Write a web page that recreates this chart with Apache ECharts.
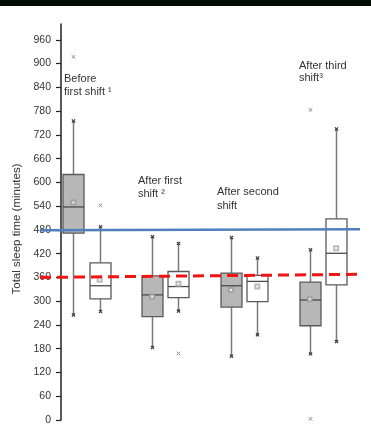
<!DOCTYPE html>
<html>
<head>
<meta charset="utf-8">
<script src="https://cdn.jsdelivr.net/npm/echarts@6/dist/echarts.min.js"></script>
<style>
  html, body { margin: 0; padding: 0; background: #ffffff; }
  #chart { width: 371px; height: 427px; }
  #strip { position: absolute; left: 0; top: 0; width: 371px; height: 6px; background: #020c02; z-index: 5; }
</style>
</head>
<body>
<div id="strip"></div>
<div id="chart"></div>
<script>
// ---- data (minutes) ----
const groupLabels = ['Before\nfirst shift \u00b9', 'After first\nshift \u00b2', 'After second\nshift', 'After third\nshift\u00b3'];
const groupPos = [1, 2, 3, 4];
// [min, Q1, median, Q3, max]
const grayStats = [
  [265, 472, 538, 620, 755],
  [183, 261, 316, 364, 463],
  [161, 285, 339, 371, 461],
  [167, 238, 303, 348, 430]
];
const whiteStats = [
  [274, 306, 339, 397, 488],
  [275, 309, 337, 375, 446],
  [215, 299, 350, 365, 409],
  [198, 341, 421, 508, 735]
];
const grayMeans = [549, 312, 328, 305];
const whiteMeans = [354, 344, 337, 434];
// [group index, value]
const grayOutliers = [[0, 917], [3, 783], [3, 3]];
const whiteOutliers = [[0, 542], [1, 168]];
const blueRef = [479, 482];
const redRef = [360, 368];
const yTicks = [0, 60, 120, 180, 240, 300, 360, 420, 480, 540, 600, 660, 720, 780, 840, 900, 960];

// ---- build ----
const pairOffset = 1 / 6;
const xMin = 0.41, xMax = 4.47;
const grayData = grayStats.map((s, i) => [groupPos[i] - pairOffset].concat(s));
const whiteData = whiteStats.map((s, i) => [groupPos[i] + pairOffset].concat(s));
const grayMeanData = grayMeans.map((v, i) => [groupPos[i] - pairOffset, v]);
const whiteMeanData = whiteMeans.map((v, i) => [groupPos[i] + pairOffset, v]);
const outlierData = grayOutliers.map(o => [groupPos[o[0]] - pairOffset, o[1]])
  .concat(whiteOutliers.map(o => [groupPos[o[0]] + pairOffset, o[1]]));

function cross(p, h, color, lw) {
  return [
    { type: 'line', shape: { x1: p[0] - h, y1: p[1] - h, x2: p[0] + h, y2: p[1] + h }, style: { stroke: color, lineWidth: lw } },
    { type: 'line', shape: { x1: p[0] - h, y1: p[1] + h, x2: p[0] + h, y2: p[1] - h }, style: { stroke: color, lineWidth: lw } }
  ];
}

function boxRenderer(fill) {
  return function (params, api) {
    const x = api.value(0);
    const pMin = api.coord([x, api.value(1)]);
    const pQ1 = api.coord([x, api.value(2)]);
    const pMed = api.coord([x, api.value(3)]);
    const pQ3 = api.coord([x, api.value(4)]);
    const pMax = api.coord([x, api.value(5)]);
    const hw = 10.5;
    const cx = Math.round(pMed[0]) + 0.5;
    const children = [
      { type: 'line', shape: { x1: cx, y1: pMax[1], x2: cx, y2: pQ3[1] }, style: { stroke: '#7a7a7a', lineWidth: 1.5 } },
      { type: 'line', shape: { x1: cx, y1: pQ1[1], x2: cx, y2: pMin[1] }, style: { stroke: '#7a7a7a', lineWidth: 1.5 } },
      { type: 'rect', shape: { x: cx - hw, y: pQ3[1], width: hw * 2, height: pQ1[1] - pQ3[1] }, style: { fill: fill, stroke: '#5a5a5a', lineWidth: 1.3 } },
      { type: 'line', shape: { x1: cx - hw, y1: pMed[1], x2: cx + hw, y2: pMed[1] }, style: { stroke: '#4a4a4a', lineWidth: 1.3 } }
    ];
    return { type: 'group', children: children.concat(cross([cx, pMax[1]], 1.6, '#333', 1.1), cross([cx, pMin[1]], 1.6, '#333', 1.1)) };
  };
}

const chart = echarts.init(document.getElementById('chart'), null, { renderer: 'canvas' });
const textStyle = { fill: '#333', font: '11px "Liberation Sans", Arial, sans-serif', lineHeight: 13.5 };
chart.setOption({
  backgroundColor: '#ffffff',
  animation: false,
  grid: { left: 40, right: 11, top: 24, bottom: 7, containLabel: false },
  xAxis: { type: 'value', min: xMin, max: xMax, show: false },
  yAxis: {
    type: 'value', min: 0, max: 1000, offset: -21,
    name: 'Total sleep time (minutes)', nameLocation: 'middle', nameGap: 33, nameRotate: 90,
    nameTextStyle: { fontFamily: 'Liberation Sans', fontSize: 11.5, color: '#333', padding: [0, 14, 0, 0] },
    splitLine: { show: false },
    axisLine: { show: true, onZero: false, lineStyle: { color: '#222', width: 1.5 } },
    axisTick: { show: true, inside: false, length: 5, customValues: yTicks, lineStyle: { color: '#222', width: 1.2 } },
    axisLabel: { customValues: yTicks, fontFamily: 'Liberation Sans', fontSize: 10.5, color: '#333', margin: 10 }
  },
  graphic: [
    { type: 'text', left: 64, top: 72, style: Object.assign({ text: groupLabels[0] }, textStyle) },
    { type: 'text', left: 138, top: 174, style: Object.assign({ text: groupLabels[1] }, textStyle) },
    { type: 'text', left: 217, top: 185.5, style: Object.assign({ text: groupLabels[2] }, textStyle) },
    { type: 'text', left: 299, top: 60.5, style: Object.assign({ text: groupLabels[3] }, textStyle, { lineHeight: 11.5 }) }
  ],
  series: [
    { type: 'custom', name: 'gray', data: grayData, encode: { x: 0, y: [1, 2, 3, 4, 5] }, renderItem: boxRenderer('#b7b7b7'), z: 2 },
    { type: 'custom', name: 'white', data: whiteData, encode: { x: 0, y: [1, 2, 3, 4, 5] }, renderItem: boxRenderer('#ffffff'), z: 2 },
    { type: 'scatter', name: 'mean gray', data: grayMeanData, symbol: 'emptyRect', symbolSize: 4, itemStyle: { color: '#9a9a9a', borderWidth: 0.8 }, z: 3 },
    { type: 'scatter', name: 'mean white', data: whiteMeanData, symbol: 'emptyRect', symbolSize: 4, itemStyle: { color: '#aaaaaa', borderWidth: 0.8 }, z: 3 },
    { type: 'custom', name: 'outliers', data: outlierData, encode: { x: 0, y: 1 },
      renderItem: function (params, api) {
        const p = api.coord([api.value(0), api.value(1)]);
        return { type: 'group', children: cross([Math.round(p[0]) + 0.5, p[1]], 1.8, '#8a8a8a', 1) };
      }, z: 3 },
    { type: 'line', name: 'refs', data: [], z: 10,
      markLine: {
        silent: true, symbol: 'none', animation: false, label: { show: false },
        data: [
          [{ coord: [xMin, blueRef[0]], lineStyle: { color: '#4f7fbd', width: 2.5, type: 'solid' } }, { coord: [xMax, blueRef[1]] }],
          [{ coord: [xMin, redRef[0]], lineStyle: { color: '#f01414', width: 3, type: [11, 6] } }, { coord: [xMax, redRef[1]] }]
        ]
      }
    }
  ]
});
</script>
</body>
</html>
